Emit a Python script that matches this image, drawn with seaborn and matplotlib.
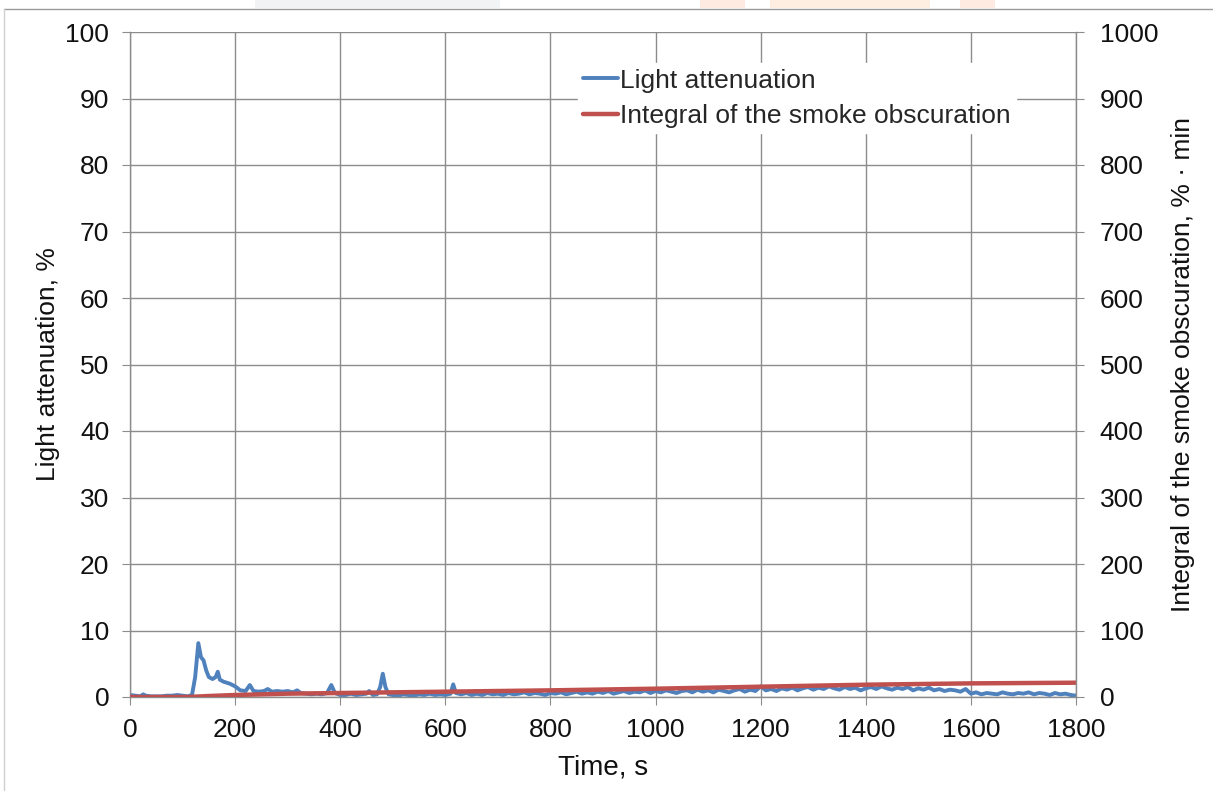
import numpy as np
import pandas as pd
import matplotlib
matplotlib.use("Agg")
import matplotlib.pyplot as plt
from matplotlib.patches import Rectangle
from matplotlib.lines import Line2D
import seaborn as sns

# ---------------------- DATOS ----------------------
# Atenuación de luz (%): tramo irregular (0-730 s)
light_time_a = [0, 10, 20, 25, 30, 40, 50, 60, 70, 80, 90, 100, 110, 118,
                124, 130, 135, 140, 145, 150, 157, 163, 167, 171, 178, 190,
                200, 210, 220, 228, 235, 245, 255, 262, 270, 280, 290, 300,
                310, 318, 325, 335, 345, 355, 365, 375, 383, 390, 400, 410,
                420, 430, 440, 450, 455, 462, 470, 476, 481, 486, 492, 500,
                510, 520, 530, 540, 550, 560, 570, 580, 590, 600, 610, 615,
                620, 630, 640, 650, 660, 670, 680, 690, 700, 710, 720, 730]
light_att_a = [0.3, 0.2, 0.1, 0.4, 0.2, 0.1, 0.1, 0.1, 0.2, 0.2, 0.3, 0.2, 0.1, 0.3,
               3.0, 8.1, 6.0, 5.5, 4.0, 3.0, 2.7, 3.0, 3.8, 2.6, 2.3, 2.0,
               1.6, 1.0, 0.9, 1.8, 0.9, 0.8, 0.9, 1.2, 0.8, 0.9, 0.8, 0.9,
               0.7, 1.0, 0.6, 0.5, 0.4, 0.5, 0.4, 0.6, 1.8, 0.6, 0.3, 0.3,
               0.5, 0.3, 0.4, 0.5, 0.9, 0.3, 0.4, 1.5, 3.5, 1.5, 0.4, 0.3,
               0.2, 0.4, 0.3, 0.2, 0.4, 0.3, 0.5, 0.3, 0.4, 0.3, 0.5, 1.9,
               0.6, 0.4, 0.6, 0.3, 0.5, 0.3, 0.6, 0.4, 0.5, 0.3, 0.6, 0.4]
# tramo regular (740-1800 s, cada 10 s)
light_time_b = list(range(740, 1801, 10))
light_att_b = [0.5, 0.7, 0.4, 0.6, 0.5, 0.3,                      # 740-790
               0.6, 0.5, 0.7, 0.4, 0.6, 0.8, 0.5, 0.7, 0.5, 0.8,  # 800-890
               0.6, 0.9, 0.5, 0.7, 0.9, 0.6, 0.8, 0.7, 1.0, 0.6,  # 900-990
               0.9, 0.7, 1.0, 0.8, 0.6, 0.9, 1.0, 0.7, 1.1, 0.8,  # 1000-1090
               1.0, 0.7, 1.1, 0.9, 0.7, 1.0, 1.2, 0.8, 1.1, 0.9,  # 1100-1190
               1.6, 1.0, 1.2, 0.9, 1.3, 1.1, 1.4, 1.0, 1.3, 1.5,  # 1200-1290
               1.1, 1.4, 1.2, 1.6, 1.3, 1.1, 1.5, 1.2, 1.4, 1.0,  # 1300-1390
               1.3, 1.5, 1.2, 1.6, 1.3, 1.1, 1.4, 1.2, 1.5, 1.0,  # 1400-1490
               1.3, 1.1, 1.4, 1.0, 1.2, 0.9, 1.1, 1.0, 0.8, 1.2,  # 1500-1590
               0.5, 0.7, 0.4, 0.6, 0.5, 0.4, 0.7, 0.5, 0.4, 0.6,  # 1600-1690
               0.5, 0.7, 0.4, 0.6, 0.5, 0.3, 0.6, 0.4, 0.5, 0.3,  # 1700-1790
               0.2]                                                # 1800

# Integral del oscurecimiento por humo (% · min)
integ_time = [0, 110, 150, 200, 300, 400, 500, 600, 800, 1000, 1200, 1400, 1600, 1800]
integ_val = [0, 0, 1.5, 3, 5, 6, 7, 8, 10, 12.5, 15.5, 18.5, 20.5, 21.5]

x_ticks = [0, 200, 400, 600, 800, 1000, 1200, 1400, 1600, 1800]
y_left_ticks = [0, 10, 20, 30, 40, 50, 60, 70, 80, 90, 100]
y_right_ticks = [0, 100, 200, 300, 400, 500, 600, 700, 800, 900, 1000]
# ---------------------------------------------------

BLUE = "#4F81BD"
RED = "#C0504D"
TXT = "#111111"
FS = 19

sns.set_style("white")
plt.rcParams["font.family"] = ["Liberation Sans", "DejaVu Sans"]

df_light = pd.DataFrame({"t": light_time_a + light_time_b,
                         "v": light_att_a + light_att_b})
df_int = pd.DataFrame({"t": integ_time, "v": integ_val})

W, H = 1213, 791
fig, ax = plt.subplots(figsize=(W / 100, H / 100), dpi=100)
fig.subplots_adjust(left=130 / W, right=1076 / W, top=1 - 32 / H, bottom=1 - 697 / H)
ax2 = ax.twinx()

sns.lineplot(data=df_light, x="t", y="v", ax=ax, color=BLUE, linewidth=2.8,
             label="Light attenuation", legend=False)
sns.lineplot(data=df_int, x="t", y="v", ax=ax2, color=RED, linewidth=3.2,
             label="Integral of the smoke obscuration", legend=False)

ax.set_xlim(0, 1800)
ax.set_ylim(0, 100)
ax2.set_ylim(0, 1000)
ax.set_xticks(x_ticks)
ax.set_yticks(y_left_ticks)
ax2.set_yticks(y_right_ticks)

grid_col = "#8c8c8c"
ax.grid(True, color=grid_col, linewidth=1.0)
ax2.grid(False)
for a in (ax, ax2):
    for s in a.spines.values():
        s.set_visible(False)
ax.spines["left"].set_visible(True)
ax.spines["bottom"].set_visible(True)
ax2.spines["right"].set_visible(True)
for s in (ax.spines["left"], ax.spines["bottom"], ax2.spines["right"]):
    s.set_color(grid_col)
    s.set_linewidth(1.0)

ax.tick_params(axis="x", direction="out", length=6, color=grid_col,
               labelsize=FS, labelcolor=TXT, pad=9, bottom=True)
ax.tick_params(axis="y", direction="out", length=6, color=grid_col,
               labelsize=FS, labelcolor=TXT, pad=9, left=True)
ax2.tick_params(axis="y", direction="out", length=6, color=grid_col,
                labelsize=FS, labelcolor=TXT, pad=11, right=True)

ax.set_xlabel("Time, s", fontsize=20, color=TXT, labelpad=9)
ax.set_ylabel("Light attenuation, %", fontsize=FS, color=TXT, labelpad=4)
ax2.set_ylabel("Integral of the smoke obscuration, % · min", fontsize=FS,
               color=TXT, labelpad=9)

h1, l1 = ax.get_legend_handles_labels()
h2, l2 = ax2.get_legend_handles_labels()
leg = ax2.legend(h1 + h2, l1 + l2, loc="upper left",
                 bbox_to_anchor=(0.4736, 0.953), fontsize=FS, frameon=True,
                 handlelength=1.3, handletextpad=0.1, labelspacing=0.44,
                 borderpad=0.2, borderaxespad=0, fancybox=False)
leg.get_frame().set_edgecolor("white")
leg.get_frame().set_facecolor("white")
leg.get_frame().set_alpha(1.0)

# marco exterior (solo arriba e izquierda visibles) y manchas de la página
fig.lines.append(Line2D([4 / W, 1], [1 - 9 / H, 1 - 9 / H], transform=fig.transFigure,
                        color="#9a9a9a", linewidth=1.0))
fig.lines.append(Line2D([4 / W, 4 / W], [0, 1 - 9 / H], transform=fig.transFigure,
                        color="#d0d0d0", linewidth=1.0))
for x0, x1, col in [(255, 500, "#f1f3f5"), (700, 745, "#feeae0"),
                    (770, 930, "#feeee2"), (960, 995, "#feeae0")]:
    fig.patches.append(Rectangle((x0 / W, 1 - 8 / H), (x1 - x0) / W, 8 / H,
                                 transform=fig.transFigure, facecolor=col,
                                 edgecolor="none"))

fig.savefig("out.png", dpi=100)
plt.close(fig)
